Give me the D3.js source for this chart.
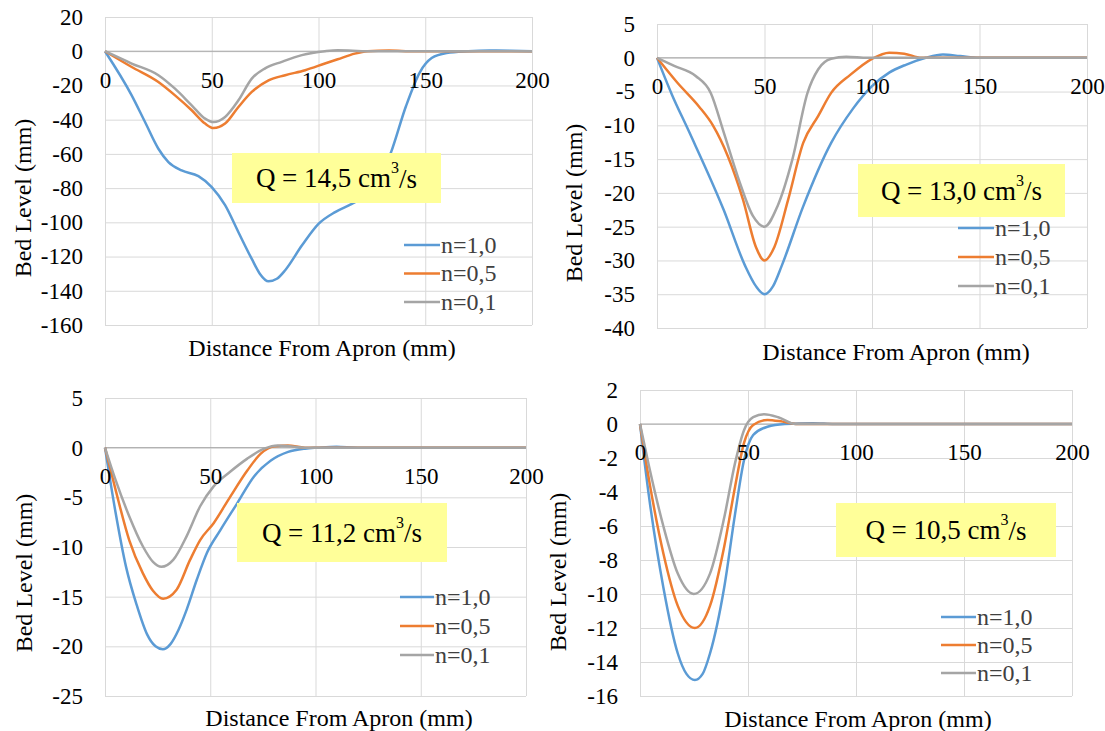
<!DOCTYPE html>
<html>
<head>
<meta charset="utf-8">
<script src="https://cdn.jsdelivr.net/npm/d3@7"></script>
<style>
  body { margin: 0; background: #fff; }
  svg { display: block; }
  .grid line { stroke: #d9d9d9; stroke-width: 1; }
  .grid path { display: none; }
</style>
</head>
<body>
<svg id="chart" width="1105" height="731"></svg>
<script>
// Bed level profiles, [distance mm, bed level mm]
const seriesNames = ['n=1,0', 'n=0,5', 'n=0,1'];
const seriesColors = ['#5b9bd5', '#ed7d31', '#a5a5a5'];
const xTicks = [0, 50, 100, 150, 200];

// Q = 14,5
const q145_n10 = [[0,0],[12.5,-25.8],[18.75,-41.4],[25,-57],[29.7,-64.8],[35.9,-69.7],[43.75,-73],[50,-79.4],[56.25,-90],[62.5,-105.8],[68.75,-121.4],[72.5,-130],[76.6,-134.5],[80.5,-133],[84.4,-128],[92.2,-113.6],[100,-100.9],[107.8,-94],[115.6,-89.2],[121.5,-85],[127.5,-78],[134,-59],[141,-32],[147.6,-12],[153,-4],[160,-1],[170,0],[180,0.4],[190,0.3],[200,0]];
const q145_n05 = [[0,0],[12.5,-9.2],[25,-18],[32.8,-25.8],[40.6,-34.5],[46.9,-42.3],[50.8,-44.9],[56.25,-42.3],[62.5,-32.6],[68.75,-23.8],[76.6,-17],[84.4,-14],[93.75,-11.1],[103,-7.2],[109,-4.7],[117,-1.4],[123,0],[133,0.4],[145,0],[175,0],[200,0]];
const q145_n01 = [[0,0],[12.5,-7.2],[25,-14],[32.8,-21.9],[40.6,-31.6],[46.9,-39.4],[50.8,-41.4],[56.25,-38.4],[62.5,-28.7],[68.75,-16],[75,-10],[82.8,-6.2],[92.2,-2.3],[103,0],[109,0.6],[116,0.3],[122,0],[175,0],[200,0]];
const q145_yTicks = [-160, -140, -120, -100, -80, -60, -40, -20, 0, 20];

// Q = 13,0
const q130_n10 = [[0,0],[7,-5.5],[15,-11],[31,-22.5],[41,-30.8],[46,-33.8],[50,-35],[54,-33.8],[58,-30.8],[68,-22],[81,-12.6],[91,-7.6],[100,-4.2],[108,-2.2],[116,-1],[125,0],[133,0.5],[141,0.25],[150,0],[175,0],[200,0]];
const q130_n05 = [[0,0],[9.5,-3.7],[19.5,-7.2],[26,-10],[33,-14.6],[40,-21],[46,-28],[50,-30],[54.6,-28],[61,-21],[68,-12.6],[75,-8.6],[81,-5.2],[90,-2.5],[100,-0.15],[108,0.75],[115,0.6],[123,0],[150,0],[200,0]];
const q130_n01 = [[0,0],[8,-1.2],[18,-2.7],[25,-5.2],[31,-11],[38,-18],[44.6,-23.4],[50,-25],[56,-22],[63,-15],[70,-5.2],[75,-1.7],[81,-0.15],[88,0.15],[98,0],[150,0],[200,0]];
const q130_yTicks = [-40, -35, -30, -25, -20, -15, -10, -5, 0, 5];

// Q = 11,2
const q112_n10 = [[0,0],[5,-6.5],[10,-12],[15,-15.8],[20,-18.8],[24,-20],[27.5,-20.3],[31,-19.8],[35,-18.3],[38.8,-16.3],[43.6,-13.3],[48.4,-10.6],[54.8,-8.3],[62.8,-5.6],[70.8,-2.9],[78.8,-1.3],[87,-0.43],[95,-0.1],[101,0],[110,0.1],[120,0],[200,0]];
const q112_n05 = [[0,0],[5.1,-4.3],[11.5,-9.3],[17.9,-12.6],[22.8,-14.4],[27.6,-15.2],[34,-14.3],[40.4,-11.3],[45.2,-9.3],[51.6,-7.6],[59.6,-4.9],[67.6,-2.3],[74,-0.6],[80.4,0.13],[86.9,0.23],[95,0],[150,0],[200,0]];
const q112_n01 = [[0,0],[5.1,-3.3],[11.5,-6.9],[17.9,-9.9],[22.8,-11.5],[26.8,-12],[32.4,-11.3],[38.8,-8.9],[45.2,-5.9],[51.6,-3.9],[59.6,-2.4],[67.6,-1.1],[75.6,-0.1],[82,0.23],[88.5,0.13],[95,0],[150,0],[200,0]];
const q112_yTicks = [-25, -20, -15, -10, -5, 0, 5];

// Q = 10,5
const q105_n10 = [[0,0],[4.2,-4.3],[10.8,-9.6],[17.5,-13.5],[21.5,-14.7],[25.4,-15.06],[29,-14.7],[32.4,-13.5],[39,-9.6],[44,-5.3],[48.2,-2.1],[52.4,-0.65],[59,-0.16],[67,0],[80,0.05],[90,0],[150,0],[200,0]];
const q105_n05 = [[0,0],[4.2,-3.3],[10.8,-7.6],[17.5,-10.7],[25.4,-12],[32.4,-10.7],[39,-7.2],[44,-3.7],[48.2,-1.1],[52.4,-0.06],[59,0.24],[66,0.14],[73,0],[150,0],[200,0]];
const q105_n01 = [[0,0],[4.2,-2.5],[10.8,-6],[17.5,-8.8],[24.9,-10],[32.4,-8.8],[39,-5.5],[44,-2.3],[48.2,-0.35],[52.4,0.4],[57.4,0.57],[64,0.4],[72,0],[150,0],[200,0]];
const q105_yTicks = [-16, -14, -12, -10, -8, -6, -4, -2, 0, 2];

const qLabels = ['14,5', '13,0', '11,2', '10,5'];

// where each chart sits on the page
const layout = [
    { left: 105, right: 532, top: 17, bottom: 325, yTitle: [23, 198], xTitle: [322, 348],
      box: [232, 153, 441, 203], legend: [404, 440, 245, 28.5] },
    { left: 657, right: 1087, top: 24, bottom: 328, yTitle: [574, 203], xTitle: [896, 352],
      box: [858, 164, 1065, 217], legend: [958, 994, 228, 29] },
    { left: 105, right: 526, top: 398, bottom: 696, yTitle: [24, 573], xTitle: [339, 718],
      box: [237, 503, 447, 562], legend: [400, 434, 597, 29] },
    { left: 640, right: 1072, top: 390, bottom: 696, yTitle: [558, 572], xTitle: [858, 719],
      box: [836, 503, 1056, 557], legend: [941, 976, 617, 28] }
];

const serif = "'Liberation Serif', 'DejaVu Serif', serif";

const panels = [
    { series: [q145_n10, q145_n05, q145_n01], yTicks: q145_yTicks },
    { series: [q130_n10, q130_n05, q130_n01], yTicks: q130_yTicks },
    { series: [q112_n10, q112_n05, q112_n01], yTicks: q112_yTicks },
    { series: [q105_n10, q105_n05, q105_n01], yTicks: q105_yTicks }
];

const svg = d3.select('#chart');

panels.forEach((panel, i) => {
    const L = layout[i];
    const w = L.right - L.left;
    const h = L.bottom - L.top;

    const x = d3.scaleLinear().domain([0, 200]).range([0, w]);
    const y = d3.scaleLinear()
        .domain(d3.extent(panel.yTicks))
        .range([h, 0]);

    const g = svg.append('g').attr('transform', `translate(${L.left},${L.top})`);

    // gridlines
    g.append('g')
        .attr('class', 'grid')
        .call(d3.axisLeft(y).tickValues(panel.yTicks).tickSize(-w).tickFormat(''));
    g.append('g')
        .attr('class', 'grid')
        .attr('transform', `translate(0,${h})`)
        .call(d3.axisBottom(x).tickValues(xTicks).tickSize(h).tickFormat(''))
        .selectAll('line').attr('y2', -h);

    // zero line
    g.append('line')
        .attr('x1', 0).attr('x2', w)
        .attr('y1', y(0)).attr('y2', y(0))
        .attr('stroke', '#a6a6a6').attr('stroke-width', 1);

    // y tick labels
    const yAxis = g.append('g')
        .attr('font-family', null)
        .call(d3.axisLeft(y).tickValues(panel.yTicks).tickSize(0).tickPadding(22)
            .tickFormat(d => String(d)));
    yAxis.select('.domain').remove();
    yAxis.attr('font-family', serif).attr('font-size', 23);
    yAxis.selectAll('text').attr('fill', '#000').style('font-family', serif);

    // lines
    const line = d3.line()
        .x(d => x(d[0]))
        .y(d => y(d[1]))
        .curve(d3.curveMonotoneX);

    panel.series.forEach((s, k) => {
        g.append('path')
            .datum(s)
            .attr('fill', 'none')
            .attr('stroke', seriesColors[k])
            .attr('stroke-width', 2.5)
            .attr('stroke-linejoin', 'round')
            .attr('d', line);
    });

    // x tick labels sit just under the zero line
    const xAxis = g.append('g')
        .attr('transform', `translate(0,${y(0)})`)
        .call(d3.axisBottom(x).tickValues(xTicks).tickSize(0).tickPadding(20)
            .tickFormat(d => String(d)));
    xAxis.select('.domain').remove();
    xAxis.attr('font-family', serif).attr('font-size', 23);
    xAxis.selectAll('text').attr('fill', '#000').style('font-family', serif);

    // axis titles
    svg.append('text')
        .attr('transform', `translate(${L.yTitle[0]},${L.yTitle[1]}) rotate(-90)`)
        .attr('text-anchor', 'middle')
        .attr('dy', '0.35em')
        .attr('font-size', 24)
        .style('font-family', serif)
        .text('Bed Level (mm)');
    svg.append('text')
        .attr('x', L.xTitle[0]).attr('y', L.xTitle[1])
        .attr('text-anchor', 'middle')
        .attr('dy', '0.35em')
        .attr('font-size', 24)
        .style('font-family', serif)
        .text('Distance From Apron (mm)');

    // legend
    const [lx1, lx2, ly0, lstep] = L.legend;
    seriesNames.forEach((name, k) => {
        const ly = ly0 + k * lstep;
        svg.append('line')
            .attr('x1', lx1).attr('x2', lx2)
            .attr('y1', ly).attr('y2', ly)
            .attr('stroke', seriesColors[k])
            .attr('stroke-width', 2.5);
        svg.append('text')
            .attr('x', lx2 + 1).attr('y', ly)
            .attr('dy', '0.33em')
            .attr('font-size', 24)
            .attr('fill', '#404040')
            .style('font-family', serif)
            .text(name);
    });

    // discharge box
    const [bx1, by1, bx2, by2] = L.box;
    svg.append('rect')
        .attr('x', bx1).attr('y', by1)
        .attr('width', bx2 - bx1).attr('height', by2 - by1)
        .attr('fill', '#ffff99');
    const t = svg.append('text')
        .attr('x', (bx1 + bx2) / 2).attr('y', (by1 + by2) / 2)
        .attr('dy', '0.35em')
        .attr('text-anchor', 'middle')
        .attr('font-size', 27)
        .style('font-family', serif);
    t.append('tspan').text(`Q = ${qLabels[i]} cm`);
    t.append('tspan').attr('font-size', 16).attr('dy', '-0.9em').text('3');
    t.append('tspan').attr('dy', '0.55em').text('/s');
});
</script>
</body>
</html>
